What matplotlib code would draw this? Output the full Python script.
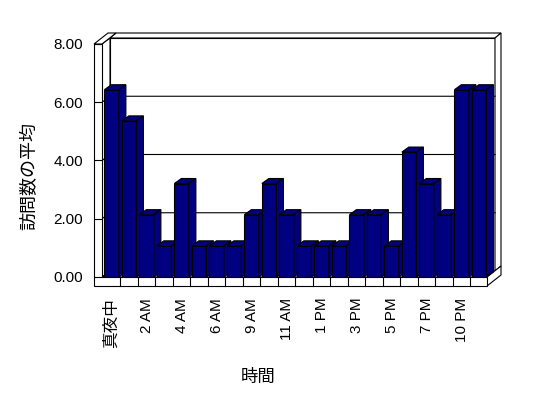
import numpy as np
import matplotlib
matplotlib.use("Agg")
import matplotlib.pyplot as plt
from matplotlib.patches import Polygon

plt.rcParams['font.family'] = ['Liberation Sans', 'Noto Sans CJK JP']

# ── data ─────────────────────────────────────
categories = ['真夜中', '1 AM', '2 AM', '3 AM', '4 AM', '5 AM', '6 AM', '7 AM',
              '9 AM', '10 AM', '11 AM', '正午', '1 PM', '2 PM', '3 PM', '4 PM',
              '5 PM', '6 PM', '7 PM', '9 PM', '10 PM', '11 PM']
visits = [6.43, 5.36, 2.14, 1.07, 3.21, 1.07, 1.07, 1.07, 2.14, 3.21, 2.14,
          1.07, 1.07, 1.07, 2.14, 2.14, 1.07, 4.29, 3.21, 2.14, 6.43, 6.43]
y_ticks = [0, 2, 4, 6, 8]
y_labels = ['0.00', '2.00', '4.00', '6.00', '8.00']

NAVY = '#000080'
W, H = 548, 398

fig = plt.figure(figsize=(W / 100, H / 100), dpi=100, facecolor='white')

# front plane of the 3-D box, pixels
L, R, T, B = 102, 487, 44, 277
ax = fig.add_axes([L / W, 1 - B / H, (R - L) / W, (B - T) / H])
ax.set_axisbelow(False)

n = len(visits)
x = np.arange(n)
x0, x1 = -0.55, n - 0.55
ymax = y_ticks[-1]
ax.set_xlim(x0, x1)
ax.set_ylim(0, ymax)
sx = (R - L) / (x1 - x0)   # px per category
sy = (B - T) / ymax        # px per unit


def off(dx_px, dy_px):
    return dx_px / sx, dy_px / sy


wdx, wdy = off(8, 6)     # wall inner depth
odx, ody = off(14, 11)   # wall outer depth
bdx, bdy = off(7, 5)     # bar depth
lwt = 8 / sx             # left wall thickness
flt = 9 / sy             # floor thickness
LW = 0.8


def poly(pts, fc, z):
    ax.add_patch(Polygon(pts, closed=True, fc=fc, ec='black', lw=LW,
                         zorder=z, clip_on=False, joinstyle='miter'))


# back wall
poly([(x0 + wdx, wdy), (x1 + wdx, wdy), (x1 + wdx, ymax + wdy), (x0 + wdx, ymax + wdy)], 'white', 1.0)
poly([(x0 + wdx, ymax + wdy), (x1 + wdx, ymax + wdy), (x1 + odx, ymax + ody), (x0 + odx, ymax + ody)], 'white', 1.0)
poly([(x1 + wdx, wdy), (x1 + odx, ody), (x1 + odx, ymax + ody), (x1 + wdx, ymax + wdy)], 'white', 1.0)
# left wall inner face
poly([(x0, 0), (x0, ymax), (x0 + wdx, ymax + wdy), (x0 + wdx, wdy)], 'white', 1.1)
# gridlines
for v in y_ticks[1:-1]:
    ax.plot([x0, x0 + wdx, x1 + wdx], [v, v + wdy, v + wdy], color='black',
            lw=LW, zorder=1.2, clip_on=False, solid_joinstyle='miter')
# floor top and right side
poly([(x0, 0), (x1, 0), (x1 + wdx, wdy), (x0 + wdx, wdy)], 'white', 1.3)
poly([(x1, 0), (x1, -flt), (x1 + odx, ody - flt), (x1 + odx, ody)], 'white', 1.3)

# bars
bars = ax.bar(x, visits, width=0.83, color=NAVY, edgecolor='black', lw=LW)
for i, (bar, h) in enumerate(zip(bars, visits)):
    z = 1.5 + i * 0.02
    bar.set_zorder(z)
    xl, xr = i - 0.415, i + 0.415
    poly([(xl, h), (xr, h), (xr + bdx, h + bdy), (xl + bdx, h + bdy)], NAVY, z + 0.01)
    poly([(xr, 0), (xr, h), (xr + bdx, h + bdy), (xr + bdx, bdy)], NAVY, z + 0.01)

# left wall front face + floor front face
poly([(x0 - lwt, ymax), (x0, ymax), (x0, 0), (x1, 0), (x1, -flt), (x0 - lwt, -flt)], 'white', 2.3)
poly([(x0 - lwt, ymax), (x0, ymax), (x0 + odx, ymax + ody), (x0 - lwt + odx, ymax + ody)], 'white', 2.3)
for i in range(n - 1):
    ax.plot([i + 0.5, i + 0.5], [0, -flt], color='black', lw=LW, zorder=2.35, clip_on=False)

for sp in ax.spines.values():
    sp.set_visible(False)
ax.patch.set_visible(False)

ax.set_yticks(y_ticks)
ax.set_yticklabels(y_labels, fontsize=11)
ax.tick_params(axis='y', length=8 * 0.72, width=LW, direction='out', pad=8.0)
ax.set_xticks(x[::2])
ax.set_xticklabels(categories[::2], rotation=90, fontsize=11, va='top', ha='center')
ax.tick_params(axis='x', length=0, pad=15)
ax.get_xticklabels()[0].set_fontsize(12)

fig.text(30 / W, 1 - 176 / H, '訪問数の平均', rotation=90, fontsize=13,
         ha='center', va='center')
fig.text(258 / W, 1 - 377 / H, '時間', fontsize=12.5, ha='center', va='center')

fig.savefig('out.png', dpi=100, facecolor='white')
